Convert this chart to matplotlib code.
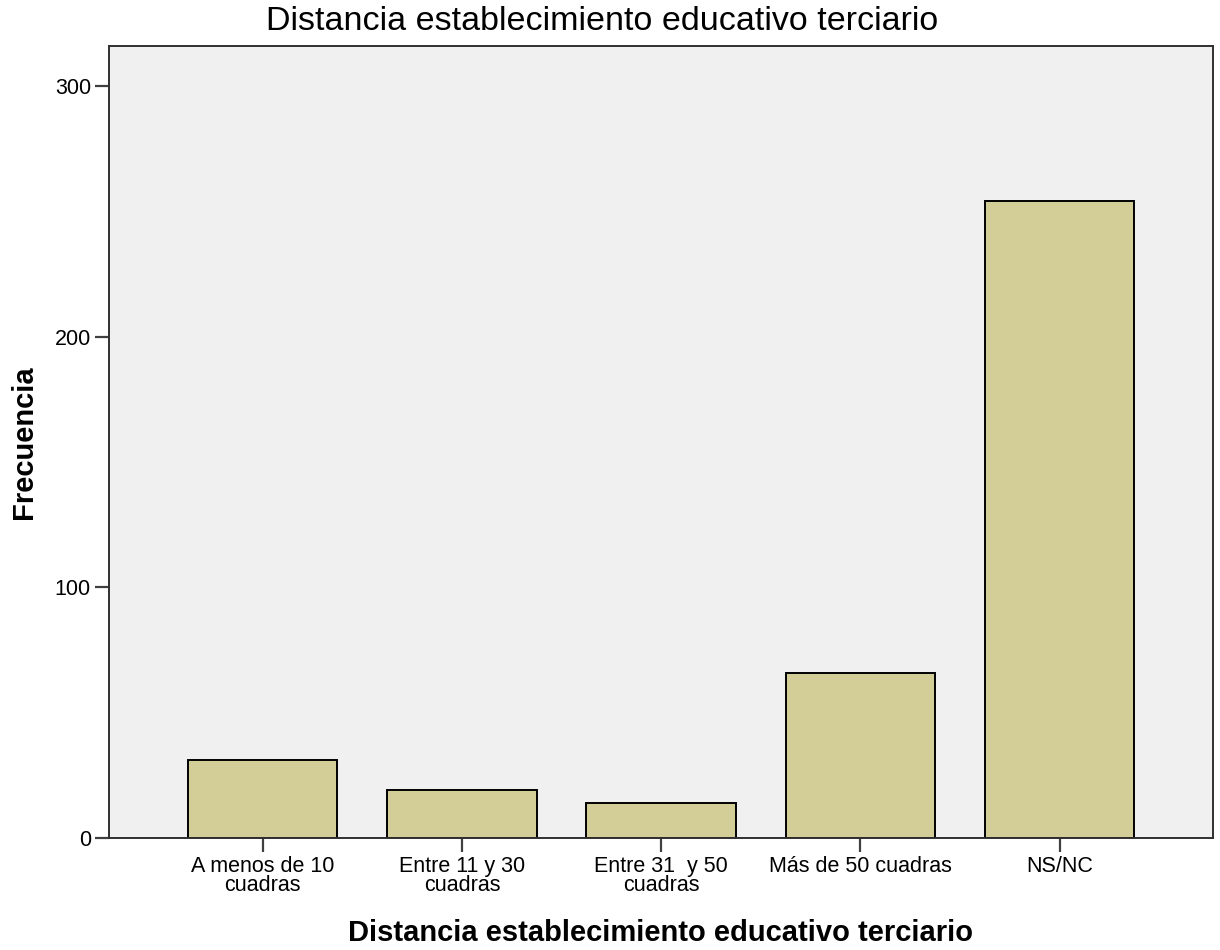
import matplotlib
matplotlib.use("Agg")
import matplotlib.pyplot as plt

plt.rcParams['font.family'] = ['Liberation Sans', 'DejaVu Sans']

categorias = ["A menos de 10\ncuadras", "Entre 11 y 30\ncuadras", "Entre 31  y 50\ncuadras",
              "Más de 50 cuadras", "NS/NC"]
frecuencias = [31, 19, 14, 66, 254]
yticks = [0, 100, 200, 300]

fig = plt.figure(figsize=(12.2, 9.5), dpi=100)
ax = fig.add_axes([0.0893, 0.1179, 0.9052, 0.8337])
ax.set_facecolor("#f0f0f0")

x = range(len(categorias))
ax.bar(x, frecuencias, width=0.75, color="#d3ce97", edgecolor="black", linewidth=1.4, zorder=2)

ax.set_xlim(-0.772, 4.772)
ax.set_ylim(0, 316)
ax.set_yticks(yticks)
ax.set_xticks(list(x))
ax.set_xticklabels(categorias, linespacing=0.85)
ax.tick_params(axis="both", length=10, width=1.6, color="#404040", labelsize=15.5, pad=3)

for s in ax.spines.values():
    s.set_linewidth(1.4)
    s.set_color("#303030")

fig.text(0.4934, 0.977, "Distancia establecimiento educativo terciario", fontsize=24.5,
         ha="center", va="center")
fig.text(0.5418, 0.018, "Distancia establecimiento educativo terciario", fontsize=21,
         fontweight="bold", ha="center", va="center")
ax.set_ylabel("Frecuencia", fontsize=21, fontweight="bold", labelpad=12)

fig.savefig("out.png", dpi=100)
